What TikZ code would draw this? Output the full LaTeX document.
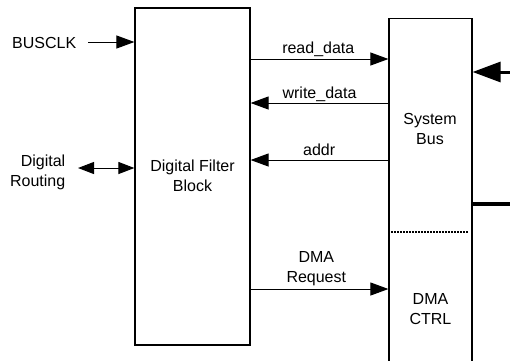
\documentclass[tikz,border=0pt]{standalone}
\usepackage{fontspec}
\setmainfont{Liberation Sans}
\usetikzlibrary{arrows.meta}
\begin{document}
\begin{tikzpicture}[x=1pt,y=-1pt,
  every node/.style={font=\fontsize{16}{20}\selectfont, inner sep=0pt},
  blockbox/.style={draw, line width=1.2pt, inner sep=0pt},
  lbl/.style={anchor=base},
  sig/.style={line width=1pt, -{Triangle[length=18pt,width=13pt]}},
  sigl/.style={line width=1pt, {Triangle[length=18pt,width=13pt]}-},
  sigboth/.style={line width=1pt, {Triangle[length=16pt,width=12pt]}-{Triangle[length=16pt,width=12pt]}},
  busin/.style={line width=3pt, -{Triangle[length=28pt,width=20pt]}},
  busline/.style={line width=3.2pt}]
\useasboundingbox (0,0) rectangle (510,360);
\clip (0,0) rectangle (510,360);
% blocks
\node[blockbox, minimum width=115pt, minimum height=337pt] (dfb) at (192.5,176.5) {};
\node[align=center] (dfbtxt) at (192.5,176.2) {Digital Filter\\Block};
\node[blockbox, minimum width=83pt, minimum height=380pt, anchor=north] (bus) at (430.5,18) {};
\node[align=center] (bustxt) at (430,128.7) {System\\Bus};
\node[align=center] (dmatxt) at (430.5,309) {DMA\\CTRL};
\coordinate (dashL) at (bus.west |- 0,232);
\coordinate (dashR) at (468,232);
\draw[line width=1.2pt, dash pattern=on 2pt off 1pt] (dashL) -- (dashR);
% left inputs
\node[lbl] (busclk) at (44.2,48) {BUSCLK};
\draw[sig] (88,42) coordinate (clkstart) -- (dfb.west |- clkstart);
\node[align=right, anchor=east] (route) at (65.5,171.9) {Digital\\Routing};
\coordinate (routestart) at (78,168);
\draw[sigboth] (routestart) -- (dfb.west |- routestart);
% signals
\coordinate (rd) at (dfb.east |- 0,59);
\draw[sig] (rd) -- (bus.west |- rd);
\node[lbl] (rdl) at (318.3,53) {read\_data};
\coordinate (wd) at (dfb.east |- 0,103);
\draw[sigl] (wd) -- (bus.west |- wd);
\node[lbl] (wdl) at (319.5,98) {write\_data};
\coordinate (ad) at (dfb.east |- 0,160);
\draw[sigl] (ad) -- (bus.west |- ad);
\node[lbl] (adl) at (319.2,155) {addr};
\coordinate (dr) at (dfb.east |- 0,289);
\draw[sig] (dr) -- (bus.west |- dr);
\node[align=center] (drl) at (316.3,268.5) {DMA\\Request};
% right side
\coordinate (rin) at (512,72);
\draw[busin] (rin) -- (bus.east |- rin);
\coordinate (rout) at (512,204);
\draw[busline] (bus.east |- rout) -- (rout);
\end{tikzpicture}
\end{document}
